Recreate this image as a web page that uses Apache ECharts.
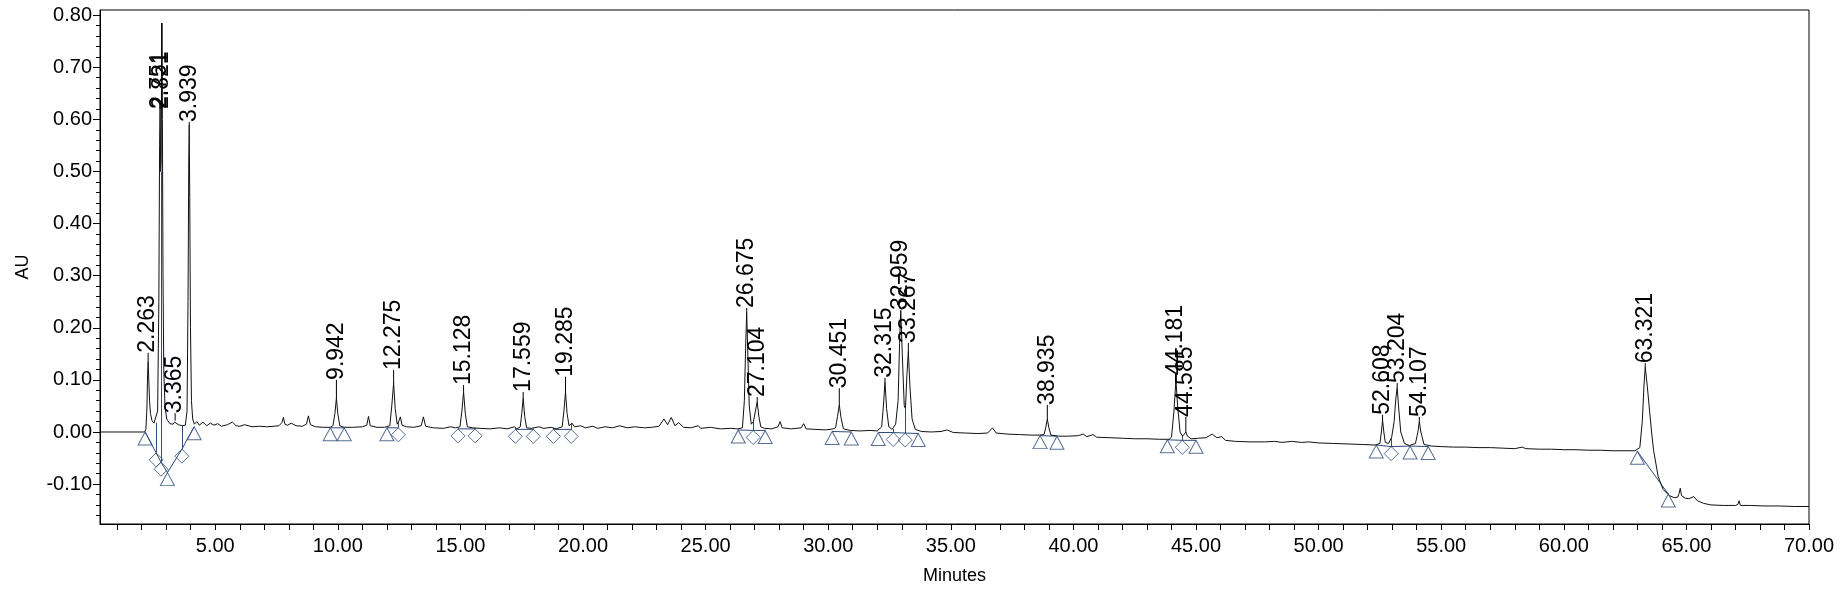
<!DOCTYPE html>
<html>
<head>
<meta charset="utf-8">
<script src="https://cdn.jsdelivr.net/npm/echarts@6/dist/echarts.min.js"></script>
<style>
html,body{margin:0;padding:0;background:#fff;}
#chart{width:1846px;height:590px;}
</style>
</head>
<body>
<div id="chart"></div>
<script>
// ---------- DATA ----------
// chromatogram trace: [minutes, AU]
const trace = [
[0.3,0.000],[2.12,0.000],[2.17,0.005],[2.21,0.04],[2.24,0.11],[2.263,0.135],[2.29,0.10],[2.32,0.06],[2.36,0.035],[2.42,0.022],[2.5,0.017],[2.58,0.018],[2.65,0.04],[2.70,0.25],[2.73,0.55],[2.751,0.63],[2.775,0.50],[2.795,0.52],[2.821,0.785],[2.845,0.6],[2.87,0.3],[2.90,0.12],[2.95,0.05],[3.02,0.025],[3.15,0.016],[3.28,0.015],[3.34,0.019],[3.365,0.022],[3.40,0.018],[3.5,0.014],[3.65,0.012],[3.78,0.013],[3.85,0.04],[3.89,0.25],[3.92,0.52],[3.939,0.59],[3.96,0.45],[3.99,0.2],[4.03,0.06],[4.08,0.025],[4.15,0.015],
[4.25,0.02],[4.35,0.013],[4.5,0.019],[4.65,0.012],[4.8,0.017],[4.95,0.013],[5.1,0.016],[5.25,0.011],[5.5,0.014],[5.7,0.019],[5.85,0.012],[6.0,0.011],[6.2,0.014],[6.5,0.010],[6.8,0.011],[7.1,0.010],[7.4,0.011],[7.6,0.012],[7.72,0.018],[7.78,0.028],[7.84,0.015],[7.95,0.013],[8.1,0.017],[8.3,0.012],[8.55,0.011],[8.72,0.015],[8.8,0.031],[8.88,0.014],[9.1,0.010],[9.4,0.009],[9.7,0.009],
[9.8,0.012],[9.88,0.035],[9.942,0.065],[10.0,0.035],[10.08,0.012],[10.25,0.009],[10.6,0.009],[11.0,0.010],[11.18,0.013],[11.25,0.030],[11.32,0.012],[11.6,0.009],[11.9,0.009],
[12.12,0.012],[12.2,0.05],[12.275,0.094],[12.34,0.045],[12.42,0.015],[12.5,0.022],[12.55,0.029],[12.62,0.013],[12.8,0.01],[13.1,0.009],[13.4,0.012],[13.49,0.029],[13.58,0.011],[13.9,0.008],[14.3,0.007],[14.6,0.010],[14.8,0.008],
[14.98,0.010],[15.06,0.04],[15.128,0.077],[15.2,0.035],[15.28,0.010],[15.5,0.008],[15.8,0.007],[16.2,0.006],[16.6,0.008],[16.9,0.006],[17.2,0.010],[17.3,0.006],
[17.44,0.01],[17.5,0.035],[17.559,0.065],[17.62,0.03],[17.7,0.008],[17.9,0.007],[18.2,0.010],[18.4,0.007],[18.7,0.009],[18.9,0.006],
[19.15,0.01],[19.22,0.04],[19.285,0.077],[19.35,0.035],[19.43,0.012],[19.55,0.017],[19.65,0.01],[19.9,0.012],[20.1,0.008],[20.4,0.011],[20.6,0.007],[20.9,0.010],[21.2,0.008],[21.5,0.012],[21.8,0.008],[22.1,0.010],[22.5,0.008],[22.8,0.009],[23.1,0.011],[23.3,0.025],[23.45,0.014],[23.6,0.028],[23.75,0.012],[23.9,0.018],[24.1,0.009],[24.4,0.008],[24.7,0.012],[24.8,0.007],[25.2,0.009],[25.6,0.006],[26.0,0.007],[26.3,0.006],
[26.5,0.008],[26.58,0.06],[26.63,0.16],[26.675,0.23],[26.72,0.15],[26.78,0.05],[26.86,0.015],[26.95,0.02],[27.03,0.04],[27.104,0.058],[27.17,0.03],[27.25,0.01],[27.4,0.007],[27.7,0.006],[27.95,0.010],[28.04,0.02],[28.12,0.008],[28.5,0.006],[28.9,0.008],[29.0,0.016],[29.1,0.006],[29.5,0.005],[29.9,0.004],[30.2,0.006],
[30.3,0.008],[30.38,0.03],[30.451,0.052],[30.52,0.028],[30.62,0.006],[30.9,0.003],[31.3,0.002],[31.7,0.003],[32.0,0.002],
[32.18,0.01],[32.25,0.05],[32.315,0.096],[32.38,0.045],[32.47,0.01],[32.6,0.005],[32.75,0.015],[32.85,0.06],[32.91,0.17],[32.959,0.232],[33.02,0.15],[33.1,0.05],[33.15,0.045],[33.21,0.11],[33.267,0.155],[33.33,0.09],[33.42,0.025],[33.55,0.005],[33.8,0.001],[34.2,0.0],[34.6,0.001],[34.85,0.004],[35.1,-0.001],[35.6,-0.002],[36.1,-0.003],[36.5,-0.002],[36.7,0.008],[36.76,0.011],[36.85,-0.002],[37.3,-0.004],[37.8,-0.005],[38.3,-0.006],[38.6,-0.006],
[38.8,-0.005],[38.87,0.008],[38.935,0.025],[39.0,0.008],[39.08,-0.006],[39.4,-0.008],[39.8,-0.008],[40.2,-0.007],[40.4,-0.004],[40.55,-0.009],[40.8,-0.005],[40.95,-0.01],[41.5,-0.011],[42.0,-0.012],[42.5,-0.013],[43.0,-0.013],[43.5,-0.014],[43.9,-0.014],
[44.0,-0.01],[44.1,0.04],[44.181,0.10],[44.25,0.05],[44.35,0.0],[44.45,-0.008],[44.52,-0.004],[44.585,0.0],[44.65,-0.008],[44.8,-0.013],[45.1,-0.012],[45.4,-0.011],[45.55,-0.007],[45.66,-0.004],[45.85,-0.011],[46.05,-0.009],[46.2,-0.016],[46.6,-0.018],[47.2,-0.019],[47.8,-0.019],[48.2,-0.018],[48.5,-0.020],[48.9,-0.018],[49.3,-0.020],[49.6,-0.019],[50.0,-0.021],[50.6,-0.022],[51.2,-0.023],[51.8,-0.024],[52.3,-0.025],
[52.5,-0.022],[52.56,0.0],[52.608,0.023],[52.66,0.0],[52.72,-0.02],[52.85,-0.022],[52.98,-0.01],[53.08,0.02],[53.15,0.065],[53.204,0.085],[53.26,0.05],[53.35,0.0],[53.5,-0.022],[53.7,-0.026],[53.95,-0.022],[54.05,0.0],[54.107,0.02],[54.17,0.0],[54.3,-0.024],[54.6,-0.027],[55.0,-0.028],[55.5,-0.029],[56.0,-0.029],[56.5,-0.030],[57.0,-0.030],[57.5,-0.031],[58.0,-0.032],[58.3,-0.029],[58.45,-0.032],[59.0,-0.033],[59.5,-0.033],[60.0,-0.034],[60.5,-0.034],[61.0,-0.035],[61.5,-0.035],[62.0,-0.036],[62.5,-0.036],[62.9,-0.036],
[63.1,-0.03],[63.2,0.02],[63.27,0.09],[63.321,0.125],[63.4,0.09],[63.5,0.04],[63.58,0.0],[63.66,-0.035],[63.85,-0.086],[64.05,-0.11],[64.3,-0.122],[64.5,-0.126],[64.65,-0.125],[64.7,-0.118],[64.75,-0.108],[64.8,-0.122],[64.95,-0.127],[65.1,-0.128],[65.3,-0.124],[65.45,-0.132],[65.7,-0.137],[66.0,-0.140],[66.5,-0.141],[67.0,-0.141],[67.1,-0.139],[67.15,-0.132],[67.2,-0.141],[67.6,-0.141],[68.2,-0.142],[68.8,-0.142],[69.4,-0.143],[70.0,-0.143]
];

// peak labels (retention times), apex heights (AU), label base heights (AU)
const peakLabels  = ['2.263','2.751','2.821','3.365','3.939','9.942','12.275','15.128','17.559','19.285','26.675','27.104','30.451','32.315','32.959','33.267','38.935','44.181','44.585','52.608','53.204','54.107','63.321'];
const peakTimes   = [2.263,2.751,2.821,3.365,3.939,9.942,12.275,15.128,17.559,19.285,26.675,27.104,30.451,32.315,32.959,33.267,38.935,44.181,44.585,52.608,53.204,54.107,63.321];
const peakHeights = [0.135,0.63,0.785,0.022,0.59,0.065,0.094,0.077,0.065,0.077,0.23,0.058,0.052,0.096,0.232,0.155,0.025,0.10,0.0,0.023,0.085,0.02,0.125];
const labelBaseAU = [0.152,0.62,0.62,0.036,0.595,0.10,0.119,0.09,0.077,0.106,0.238,0.067,0.084,0.104,0.234,0.171,0.052,0.109,0.029,0.033,0.094,0.029,0.132];

// integration marks: triangles [min, AU]; diamonds [min, AU, drop-line top AU]
const triangleMarks = [[2.14,0.0],[3.05,-0.078],[4.14,0.01],[9.69,0.008],[10.26,0.008],[12.0,0.008],[26.33,0.004],[27.43,0.003],[30.16,0.001],[30.94,0.0],[32.04,-0.001],[33.67,-0.003],[38.64,-0.007],[39.33,-0.008],[43.83,-0.015],[45.0,-0.016],[52.35,-0.025],[53.73,-0.027],[54.47,-0.028],[63.0,-0.037],[64.26,-0.119]];
const diamondMarks = [[2.59,-0.040,0.018],[2.79,-0.058,0.50],[3.64,-0.033,0.012],[12.47,0.008,0.018],[14.9,0.006,0.008],[15.6,0.006,0.008],[17.24,0.005,0.008],[17.97,0.005,0.007],[18.79,0.005,0.008],[19.52,0.005,0.015],[26.94,0.003,0.02],[32.65,-0.001,0.006],[33.14,-0.002,0.045],[44.44,-0.016,-0.007],[52.96,-0.028,-0.012]];
// integration baselines
const baselineGroups = [
[[2.14,0.0],[2.59,-0.040],[2.79,-0.058],[3.05,-0.078],[3.64,-0.033],[4.14,0.01]],
[[9.69,0.008],[10.26,0.008]],
[[12.0,0.008],[12.47,0.008]],
[[14.9,0.006],[15.6,0.006]],
[[17.24,0.005],[17.97,0.005]],
[[18.79,0.005],[19.52,0.005]],
[[26.33,0.004],[26.94,0.003],[27.43,0.003]],
[[30.16,0.001],[30.94,0.0]],
[[32.04,-0.001],[32.65,-0.001],[33.14,-0.002],[33.67,-0.003]],
[[38.64,-0.007],[39.33,-0.008]],
[[43.83,-0.015],[44.44,-0.016],[45.0,-0.016]],
[[52.35,-0.025],[52.96,-0.028],[53.73,-0.027],[54.47,-0.028]],
[[63.0,-0.037],[64.26,-0.119]]
];

// axis ranges and ticks
const xRange = [0.3, 70];
const yRange = [-0.1766, 0.81];
const xTickValues = Array.from({length:70},(_,i)=>i+1);
const xLabelValues = [5,10,15,20,25,30,35,40,45,50,55,60,65,70];
const yLabelValues = [-0.10,0.00,0.10,0.20,0.30,0.40,0.50,0.60,0.70,0.80];
const yMinorValues = [-0.16,-0.14,-0.12,-0.10,-0.08,-0.06,-0.04,-0.02,0.00,0.02,0.04,0.06,0.08,0.10,0.12,0.14,0.16,0.18,0.20,0.22,0.24,0.26,0.28,0.30,0.32,0.34,0.36,0.38,0.40,0.42,0.44,0.46,0.48,0.50,0.52,0.54,0.56,0.58,0.60,0.62,0.64,0.66,0.68,0.70,0.72,0.74,0.76,0.78,0.80];

// ---------- CHART ----------
const FONT = 'Liberation Sans, Arial, sans-serif';
const MARK = '#2f4b7c';
const chart = echarts.init(document.getElementById('chart'), null, {renderer:'canvas'});
const peakData = peakTimes.map((t,i)=>[t, peakHeights[i], labelBaseAU[i], i]);

chart.setOption({
  animation:false,
  backgroundColor:'#fff',
  grid:{left:100,right:37,top:10,bottom:66,show:true,borderColor:'#000',borderWidth:1,backgroundColor:'transparent'},
  xAxis:{
    type:'value', min:xRange[0], max:xRange[1],
    name:'Minutes', nameLocation:'middle', nameGap:43,
    nameTextStyle:{fontFamily:FONT,fontSize:18,color:'#000'},
    axisLine:{show:true,onZero:false,lineStyle:{color:'#000',width:1}},
    axisTick:{show:true,customValues:xTickValues,length:6,lineStyle:{color:'#000'}},
    axisLabel:{customValues:xLabelValues,formatter:v=>v.toFixed(2),fontFamily:FONT,fontSize:20,color:'#000',margin:12},
    splitLine:{show:false}
  },
  yAxis:[{
    type:'value', min:yRange[0], max:yRange[1],
    name:'AU', nameLocation:'middle', nameGap:68, nameRotate:90,
    nameTextStyle:{fontFamily:FONT,fontSize:18,color:'#000'},
    axisLine:{show:true,onZero:false,lineStyle:{color:'#000',width:1}},
    axisTick:{show:true,customValues:yLabelValues,length:7,lineStyle:{color:'#000'}},
    axisLabel:{customValues:yLabelValues,formatter:v=>v.toFixed(2),fontFamily:FONT,fontSize:20,color:'#000',margin:8},
    splitLine:{show:false}
  },{
    type:'value', min:yRange[0], max:yRange[1], position:'left', offset:0,
    axisLine:{show:false,onZero:false},
    axisTick:{show:true,customValues:yMinorValues,length:4,lineStyle:{color:'#000'}},
    axisLabel:{show:false},
    splitLine:{show:false}
  }],
  series:[
    {
      type:'lines', coordinateSystem:'cartesian2d', polyline:true, silent:true, z:2,
      lineStyle:{color:MARK,width:1,opacity:1},
      data: baselineGroups.map(g=>({coords:g}))
    },
    {
      type:'lines', coordinateSystem:'cartesian2d', polyline:false, silent:true, z:2,
      lineStyle:{color:MARK,width:1,opacity:1},
      data: diamondMarks.map(d=>({coords:[[d[0],d[1]],[d[0],d[2]]]}))
    },
    {
      type:'line', data:trace, showSymbol:false, symbol:'none', silent:true, z:3,
      lineStyle:{color:'#111',width:1}
    },
    {
      type:'scatter', data:triangleMarks, symbol:'triangle', symbolSize:[14,13], symbolOffset:[0,'50%'],
      silent:true, z:4,
      itemStyle:{color:'rgba(0,0,0,0)',borderColor:MARK,borderWidth:1}
    },
    {
      type:'scatter', data:diamondMarks.map(d=>[d[0],d[1]]), symbol:'diamond', symbolSize:[14,14], symbolOffset:[0,'50%'],
      silent:true, z:4,
      itemStyle:{color:'rgba(0,0,0,0)',borderColor:MARK,borderWidth:1}
    },
    {
      type:'custom', data:peakData, silent:true, z:5, clip:false,
      encode:{x:0,y:[1,2]},
      renderItem:function(params, api){
        const i = api.value(3);
        const apex = api.coord([api.value(0), api.value(1)]);
        const base = api.coord([api.value(0), api.value(2)]);
        return {type:'group', children:[
          {type:'line', shape:{x1:apex[0],y1:apex[1],x2:base[0],y2:base[1]}, style:{stroke:'#000',lineWidth:1}},
          {type:'text', x:base[0], y:base[1], rotation:Math.PI/2,
           style:{text:peakLabels[i], fontFamily:FONT, fontSize:23, fill:'#000', align:'left', verticalAlign:'middle'}}
        ]};
      }
    }
  ]
});
</script>
</body>
</html>
